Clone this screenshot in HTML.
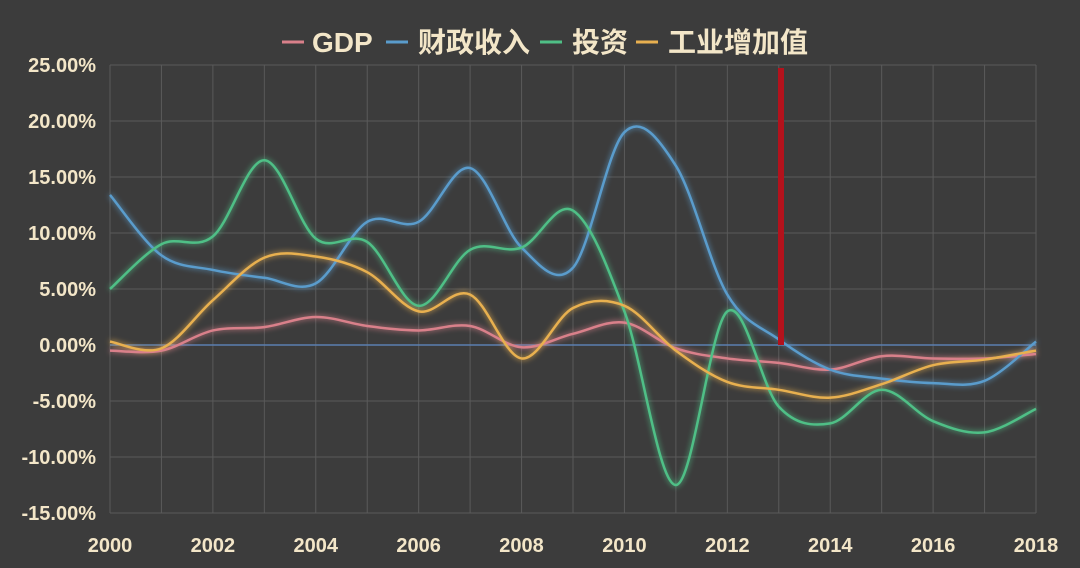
<!DOCTYPE html>
<html><head><meta charset="utf-8"><style>
html,body{margin:0;padding:0;background:#3c3c3c;}
svg{display:block}
text{font-family:"Liberation Sans","Noto Sans CJK SC",sans-serif;fill:#f3e6c8;font-weight:bold}
</style></head><body>
<svg id="s" width="1080" height="568" viewBox="0 0 1080 568">
<defs>
<filter id="g" x="-10%" y="-10%" width="120%" height="120%"><feGaussianBlur stdDeviation="3" result="b"/><feMerge><feMergeNode in="b"/><feMergeNode in="SourceGraphic"/></feMerge></filter>
</defs>
<rect width="1080" height="568" fill="#3c3c3c"/>
<g id="grid" stroke="#5a5a5a" stroke-width="1"></g>
<line x1="110" y1="345" x2="1036" y2="345" stroke="#5b7fb0" stroke-width="1.5"/>
<g id="yl" font-size="20" text-anchor="end"></g>
<g id="xl" font-size="20" text-anchor="middle"></g>
<g id="lines" fill="none" stroke-width="2.5" filter="url(#g)"></g>
<rect x="778" y="68" width="6" height="277" fill="#b3121c"/>
<g font-size="28">
<line x1="282" y1="42" x2="304" y2="42" stroke="#d9808a" stroke-width="3"/>
<text x="312" y="52">GDP</text>
<line x1="386" y1="42" x2="408" y2="42" stroke="#5a9ccc" stroke-width="3"/>
<text x="418" y="52">财政收入</text>
<line x1="540" y1="42" x2="562" y2="42" stroke="#4fbf86" stroke-width="3"/>
<text x="572" y="52">投资</text>
<line x1="636" y1="42" x2="658" y2="42" stroke="#e8b050" stroke-width="3"/>
<text x="668" y="52">工业增加值</text>
</g>
</svg>
<script>
const ns="http://www.w3.org/2000/svg";
const X=y=>110+(y-2000)*(926/18), Y=v=>345-v*11.2;
const grid=document.getElementById('grid'),yl=document.getElementById('yl'),xl=document.getElementById('xl');
function el(p,t,a){const e=document.createElementNS(ns,t);for(const k in a)e.setAttribute(k,a[k]);p.appendChild(e);return e;}
for(let v=25;v>=-15;v-=5){el(grid,'line',{x1:110,x2:1036,y1:Y(v),y2:Y(v)});const t=el(yl,'text',{x:96,y:Y(v)+7});t.textContent=v.toFixed(2)+'%';}
for(let y=2000;y<=2018;y++){el(grid,'line',{x1:X(y),x2:X(y),y1:Y(25),y2:Y(-15)});if(y%2==0){const t=el(xl,'text',{x:X(y),y:552});t.textContent=y;}}
const S=[
["#d9808a",[-0.5,-0.5,1.3,1.6,2.5,1.7,1.3,1.7,-0.2,1.0,2.0,-0.3,-1.2,-1.6,-2.2,-1.0,-1.2,-1.2,-0.8]],
["#5a9ccc",[13.4,8,6.7,6,5.5,11,11,15.8,8.7,6.9,19,16,4.5,0.5,-2.2,-3,-3.4,-3.2,0.3]],
["#4fbf86",[5,9,9.7,16.5,9.5,9.2,3.5,8.5,8.7,12,3,-12.5,3,-5.5,-7,-4,-6.8,-7.8,-5.7]],
["#e8b050",[0.3,-0.3,4,7.8,7.9,6.5,3,4.5,-1.2,3.3,3.5,-0.5,-3.3,-4,-4.7,-3.5,-1.8,-1.3,-0.5]]];
const L=document.getElementById('lines');
S.forEach(([c,d])=>{const p=d.map((v,i)=>[X(2000+i),Y(v)]);let s=`M${p[0][0]},${p[0][1]}`;
for(let i=0;i<p.length-1;i++){const p0=p[Math.max(0,i-1)],p1=p[i],p2=p[i+1],p3=p[Math.min(p.length-1,i+2)];
s+=` C${p1[0]+(p2[0]-p0[0])/6},${p1[1]+(p2[1]-p0[1])/6} ${p2[0]-(p3[0]-p1[0])/6},${p2[1]-(p3[1]-p1[1])/6} ${p2[0]},${p2[1]}`;}
el(L,'path',{d:s,stroke:c});});
</script>
</body></html>
